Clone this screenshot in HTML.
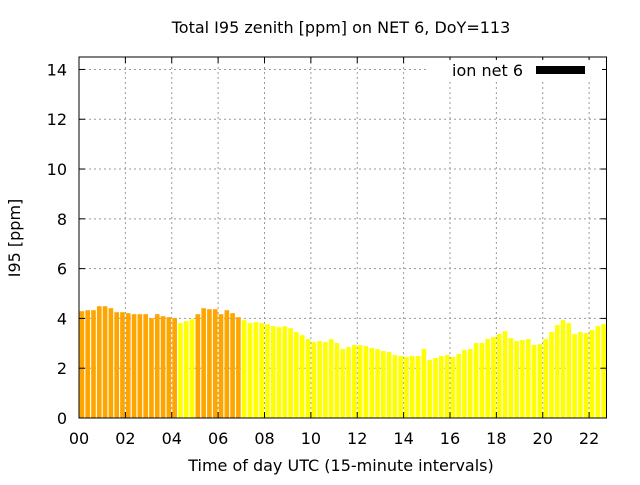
<!DOCTYPE html>
<html><head><meta charset="utf-8"><style>
body{margin:0;background:#fff}
svg text{font-family:"DejaVu Sans","Liberation Sans",sans-serif;fill:#000}
</style></head><body>
<svg id="chart" width="640" height="480" viewBox="0 0 640 480" xmlns="http://www.w3.org/2000/svg">
<text x="341" y="33" font-size="16" text-anchor="middle">Total I95 zenith [ppm] on NET 6, DoY=113</text>
<text transform="translate(20,238) rotate(-90)" font-size="16" text-anchor="middle">I95 [ppm]</text>
<text x="341" y="471" font-size="16" text-anchor="middle">Time of day UTC (15-minute intervals)</text>
<g id="grid"></g>
<g id="bars"></g>
<g id="axes"></g>
<g>
<rect x="428" y="60" width="174" height="20" fill="#fff"/>
<text x="523" y="76" font-size="16" text-anchor="end">ion net 6</text>
<rect x="536" y="66" width="49" height="8" fill="#000"/>
</g>
</svg>
<script>
const values=[4.29,4.33,4.33,4.49,4.49,4.41,4.25,4.25,4.21,4.17,4.17,4.17,4.01,4.17,4.09,4.05,4.01,3.81,3.89,3.97,4.17,4.41,4.37,4.37,4.17,4.33,4.21,4.05,3.93,3.81,3.85,3.81,3.77,3.69,3.65,3.69,3.61,3.45,3.33,3.17,3.05,3.09,3.05,3.17,3.01,2.77,2.85,2.93,2.93,2.89,2.81,2.77,2.69,2.65,2.53,2.49,2.45,2.49,2.49,2.77,2.33,2.41,2.49,2.53,2.45,2.57,2.73,2.77,3.01,3.01,3.17,3.25,3.37,3.49,3.21,3.09,3.13,3.17,2.93,2.97,3.17,3.45,3.73,3.93,3.81,3.37,3.45,3.41,3.53,3.69,3.77];
const orangeRanges=[[0,16],[20,27]];
const yTicks=[0,2,4,6,8,10,12,14];
const xTicks=[0,2,4,6,8,10,12,14,16,18,20,22];
const xTickLabels=["00","02","04","06","08","10","12","14","16","18","20","22"];
const L=79,R=606.5,T=57,B=418,XMAX=22.75,YMAX=14.5;
const xs=h=>L+h/XMAX*(R-L);
const ys=v=>B-v/YMAX*(B-T);
const NS="http://www.w3.org/2000/svg";
function mk(tag,attrs,parent){const e=document.createElementNS(NS,tag);for(const k in attrs)e.setAttribute(k,attrs[k]);parent.appendChild(e);return e;}
const grid=document.getElementById('grid'),bars=document.getElementById('bars'),axes=document.getElementById('axes');
yTicks.forEach(v=>{if(v>0){const g=mk('line',{x1:L,x2:R,y1:ys(v),y2:ys(v),stroke:'#999','stroke-dasharray':'2,3'},grid);

}
const t=mk('text',{x:L-12,y:ys(v)+6,'font-size':16,'text-anchor':'end'},axes);t.textContent=v;


mk('line',{x1:L,x2:L+6,y1:ys(v),y2:ys(v),stroke:'#000'},axes);mk('line',{x1:R,x2:R-6,y1:ys(v),y2:ys(v),stroke:'#000'},axes);});
xTicks.forEach((h,i)=>{if(h>0){const g=mk('line',{x1:xs(h),x2:xs(h),y1:T,y2:B,stroke:'#999','stroke-dasharray':'2,3'},grid);

}
const t=mk('text',{x:xs(h),y:B+26,'font-size':16,'text-anchor':'middle'},axes);t.textContent=xTickLabels[i];


mk('line',{x1:xs(h),x2:xs(h),y1:B,y2:B-6,stroke:'#000'},axes);mk('line',{x1:xs(h),x2:xs(h),y1:T,y2:T+6,stroke:'#000'},axes);});
const bw=(xs(0.25)-xs(0))*0.8;
values.forEach((v,i)=>{const c=xs(i*0.25+0.125);const orange=orangeRanges.some(r=>i>=r[0]&&i<=r[1]);
const b=mk('rect',{x:c-bw/2,y:ys(v),width:bw,height:B-ys(v),fill:orange?'#ffa500':'#ffff00'},bars);

});
mk('rect',{x:L,y:T,width:R-L,height:B-T,fill:'none',stroke:'#000','stroke-width':1},axes);
</script>
</body></html>
